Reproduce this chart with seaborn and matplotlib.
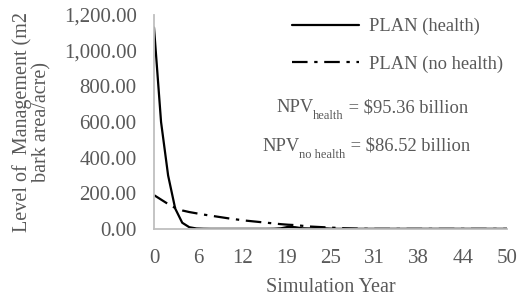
import matplotlib
matplotlib.use("Agg")
import matplotlib.pyplot as plt
import seaborn as sns
import pandas as pd

# simulation years 0..50
years = list(range(51))
health = [1130, 600, 300, 115, 35, 10, 3, 1.5, 1, 1,
          1, 1, 1, 1, 1, 1, 1, 1.5, 4, 12,
          10, 4, 3, 5, 4, 2, 1, 1, 1, 1,
          1, 1, 1, 1, 1, 1, 1, 1, 1, 1,
          1, 1, 1, 1, 1, 1, 1, 1, 1, 1, 1]
no_health = [190, 165, 140, 118, 104, 95, 88, 81, 75, 69,
             63, 57, 52, 47, 43, 39, 35, 31, 27, 24,
             22, 18, 14, 12, 10, 8, 6, 4, 3, 2,
             1, 0.5, 0.5, 0.5, 0.5, 0.5, 0.5, 0.5, 0.5, 0.5,
             0.5, 0.5, 0.5, 0.5, 0.5, 0.5, 0.5, 0.5, 0.5, 0.5, 0.5]
series_names = ["PLAN (health)", "PLAN (no health)"]
x_ticks = [0, 6.25, 12.5, 18.75, 25, 31.25, 37.5, 43.75, 50]
x_tick_labels = ["0", "6", "12", "19", "25", "31", "38", "44", "50"]
y_ticks = [0, 200, 400, 600, 800, 1000, 1200]
npv_labels = ["health", "no health"]
npv_values = [95.36, 86.52]

df = pd.DataFrame({"year": years, series_names[0]: health, series_names[1]: no_health})

sns.set_style("white")
plt.rcParams["font.family"] = ["Liberation Serif", "DejaVu Serif"]

grey_axis = "#BFBFBF"
grey_text = "#595959"
W, H = 517, 299

fig = plt.figure(figsize=(5.17, 2.99), dpi=100)
ax = fig.add_axes([154 / W, 70 / H, 353 / W, 214 / H])

sns.lineplot(data=df, x="year", y=series_names[0], ax=ax, color="black",
             linewidth=1.6, label=series_names[0])
sns.lineplot(data=df, x="year", y=series_names[1], ax=ax, color="black",
             linewidth=1.6, label=series_names[1])
ax.lines[1].set_dashes((7, 3, 1.5, 3))

ax.set_xlim(0, 50)
ax.set_ylim(0, 1200)
ax.set_xticks(x_ticks)
ax.set_xticklabels(x_tick_labels)
ax.set_yticks(y_ticks)
ax.set_yticklabels([f"{v:,.2f}" for v in y_ticks])

for side in ["top", "right"]:
    ax.spines[side].set_visible(False)
for side in ["left", "bottom"]:
    ax.spines[side].set_color(grey_axis)
    ax.spines[side].set_linewidth(1.3)
ax.tick_params(axis="both", direction="inout", length=7, width=1.1,
               color=grey_axis, labelcolor=grey_text, labelsize=15)
ax.tick_params(axis="x", pad=11)
ax.tick_params(axis="y", pad=9)

ax.set_xlabel("Simulation Year", fontsize=14.5, color=grey_text, labelpad=7)
ax.set_ylabel("Level of  Management (m2\nbark area/acre)", fontsize=14.5,
              color=grey_text, labelpad=9, linespacing=1.0)

leg = ax.legend(loc="upper left", bbox_to_anchor=(292 / W, 1 - 18 / H),
                bbox_transform=fig.transFigure, frameon=False, fontsize=13.3,
                handlelength=3.65, handletextpad=0.5, labelspacing=1.1,
                borderpad=0, borderaxespad=0)
for t in leg.get_texts():
    t.set_color(grey_text)

# NPV annotations: main text, lowered small subscript, then the value
renderer = fig.canvas.get_renderer()
npv_pos = [(276, 112), (262, 151)]  # left edge, baseline (pixels from top)
for (px, py), name, val in zip(npv_pos, npv_labels, npv_values):
    x = px
    for txt, size, drop in [("NPV", 13.3, 0), (name, 9, 7),
                            (f" = ${val:.2f} billion", 13.3, 0)]:
        t = fig.text(x / W, 1 - (py + drop) / H, txt, ha="left", va="baseline",
                     fontsize=size, color=grey_text)
        x += t.get_window_extent(renderer).width

fig.savefig("out.png", dpi=100)
